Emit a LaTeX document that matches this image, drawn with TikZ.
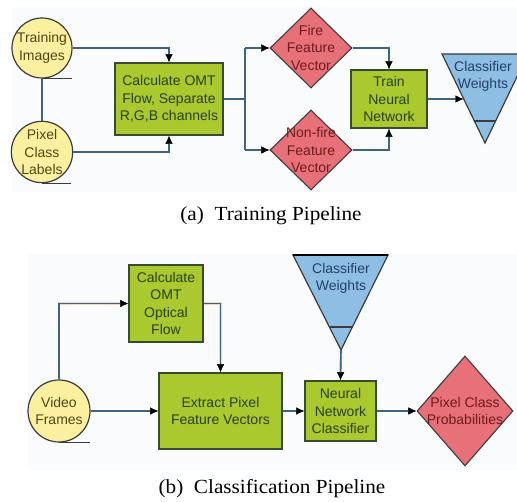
\documentclass[tikz,border=0pt]{standalone}
\usepackage{fontspec}
\setmainfont{Liberation Serif}
\setsansfont{Liberation Sans}
\usetikzlibrary{arrows.meta,shapes.geometric,calc}
\definecolor{boxgreen}{RGB}{170,201,46}
\definecolor{boxedge}{RGB}{55,75,50}
\definecolor{txtgreen}{RGB}{40,65,20}
\definecolor{circfill}{RGB}{250,240,160}
\definecolor{circtxt}{RGB}{80,70,25}
\definecolor{diafill}{RGB}{232,112,120}
\definecolor{diatxt}{RGB}{110,28,32}
\definecolor{trifill}{RGB}{142,190,228}
\definecolor{tritxt}{RGB}{35,65,105}
\definecolor{linecol}{RGB}{62,100,128}
\definecolor{halo}{RGB}{244,210,198}
\definecolor{shapeedge}{RGB}{60,60,60}
\definecolor{panel}{RGB}{250,251,253}
\tikzset{
  lbl/.style={font=\sffamily\fontsize{14}{17.5}\selectfont, align=center, inner sep=0pt},
  procbox/.style={draw=boxedge, line width=1.3pt, fill=boxgreen, text=txtgreen, lbl, anchor=center},
  tape/.style={circle, draw=shapeedge, line width=1.2pt, fill=circfill, text=circtxt, lbl},
  dia/.style={diamond, draw=shapeedge, line width=1.1pt, fill=diafill, inner sep=0pt},
  diatext/.style={lbl, text=diatxt},
  tri/.style={draw=shapeedge, line width=1.2pt, fill=trifill},
  tritext/.style={lbl, text=tritxt},
  conn/.style={draw=linecol, line width=1.6pt,
    preaction={draw=halo, line width=2.8pt}},
  arr/.style={conn, -{Latex[length=8pt,width=7.5pt,color=black]}},
  captext/.style={font=\fontsize{20}{24}\selectfont, inner sep=0pt}
}
\begin{document}
\begin{tikzpicture}[x=1pt,y=-1pt]
\useasboundingbox (0,0) rectangle (517,502);
\clip (0,0) rectangle (517,502);
\fill[white] (0,0) rectangle (517,502);
\fill[panel] (12,7) rectangle (517,192);
\fill[panel] (28,254) rectangle (517,470);

% ---------- (a) Training pipeline ----------
\node[tape, minimum size=60pt] (ti) at (42,48) {Training\\Images};
\node[tape, minimum size=58pt] (pcl) at (42,152) {Pixel\\Class\\Labels};
\draw[conn] (ti.south) -- (pcl.north);
\draw[shapeedge, line width=1.2pt] (ti.south) -- ++(30,0);
\draw[shapeedge, line width=1.2pt] (pcl.south) -- ++(29,0);

\node[procbox, minimum width=108pt, minimum height=72pt] (calc) at (169,99) {Calculate OMT\\Flow, Separate\\R,G,B channels};

\draw[arr] (ti.east) -| (calc.north);
\draw[arr] (pcl.east) -| (calc.south);

\node[dia, minimum width=82pt, minimum height=80pt] (fire) at (311,48) {};
\node[diatext] (firet) at (fire.center) {Fire\\Feature\\Vector};
\node[dia, minimum width=82pt, minimum height=80pt] (non) at (311,150) {};
\node[diatext] (nont) at (non.center) {Non-fire\\Feature\\Vector};

\coordinate (split) at (245,99);
\draw[conn] (calc.east) -- (split);
\draw[conn] (split |- fire.west) -- (split |- non.west);
\draw[arr] (split |- fire.west) -- (fire.west);
\draw[arr] (split |- non.west) -- (non.west);

\node[procbox, minimum width=76pt, minimum height=58pt] (train) at (389,99) {Train\\Neural\\Network};
\draw[arr] (fire.east) -| (train.north);
\draw[arr] (non.east) -| (train.south);

% classifier weights triangle (a)
\coordinate (t1l) at (442,54);
\coordinate (t1r) at (528,54);
\coordinate (t1a) at (485,143);
\draw[tri] (t1l) -- (t1r) -- (t1a) -- cycle;
\draw[shapeedge, line width=1.2pt] (474.4,121) -- (495.6,121);
\node[tritext] (cw1) at (483,76.5) {Classifier\\Weights};
\coordinate (t1in) at (463.5,99);
\draw[arr] (train.east) -- (t1in);

\node[captext] (capa) at (271,216) {\scalebox{1.06}[1]{(a)\ \ Training Pipeline}};

% ---------- (b) Classification pipeline ----------
\node[procbox, minimum width=74pt, minimum height=77pt] (omt) at (166,303.5) {Calculate\\OMT\\Optical\\Flow};
\node[tape, minimum size=62pt] (vf) at (59,411) {Video\\Frames};
\draw[shapeedge, line width=1.2pt] (vf.south) -- ++(31,0);
\node[procbox, minimum width=123pt, minimum height=76pt] (ext) at (220.5,411) {Extract Pixel\\Feature Vectors};
\node[procbox, minimum width=71pt, minimum height=60pt] (nn) at (340.5,411) {Neural\\Network\\Classifier};

\draw[arr] (vf.north) |- (omt.west);
\draw[arr] (omt.east) -| (ext.north);
\draw[arr] (vf.east) -- (ext.west);
\draw[arr] (ext.east) -- (nn.west);

% classifier weights triangle (b)
\coordinate (t2l) at (293,255);
\coordinate (t2r) at (388,255);
\coordinate (t2a) at (341,350);
\draw[tri] (t2l) -- (t2r) -- (t2a) -- cycle;
\draw[black, line width=1.8pt] (t2l) -- (t2r);
\draw[shapeedge, line width=1.2pt] (329.5,327) -- (352.5,327);
\node[tritext] (cw2) at (341,278.5) {Classifier\\Weights};
\draw[arr] (t2a) -- (nn.north);

\node[dia, minimum width=96pt, minimum height=110pt] (prob) at (465,411) {};
\node[diatext] (probt) at (prob.center) {Pixel Class\\Probabilities};
\draw[arr] (nn.east) -- (prob.west);

\node[captext] (capb) at (272,489) {\scalebox{1.06}[1]{(b)\ \ Classification Pipeline}};
\end{tikzpicture}
\end{document}
